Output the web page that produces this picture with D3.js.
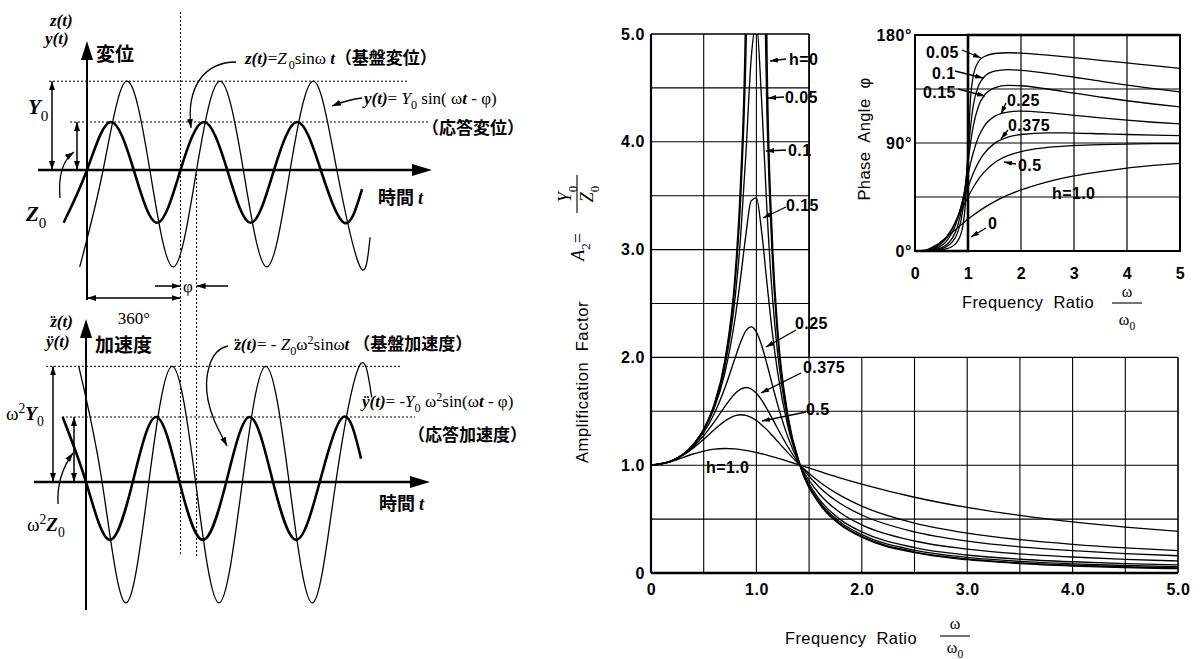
<!DOCTYPE html>
<html><head><meta charset="utf-8">
<script src="https://cdn.jsdelivr.net/npm/d3@7/dist/d3.min.js"></script>
<style>html,body{margin:0;padding:0;background:#fff;} svg{display:block;}</style>
</head><body>
<svg id="chart" width="1202" height="659"></svg>
<script>
// ================= DATA =================
// Amplification factor A2 = Y0/Z0 vs frequency ratio
const ampRatio  = [0,0.2,0.4,0.5,0.6,0.7,0.8,0.85,0.9,0.95,1.0,1.05,1.1,1.15,1.2,1.3,1.414,1.6,1.8,2.0,2.5,3.0,3.5,4.0,4.5,5.0];
const amp_h0    = [1,1.042,1.190,1.333,1.563,1.961,2.778,3.604,5.263,10.26,null,9.756,4.762,3.101,2.273,1.449,1.0,0.641,0.446,0.333,0.190,0.125,0.0889,0.0667,0.0519,0.0417];
const amp_h005  = [1,1.042,1.190,1.332,1.558,1.947,2.720,3.458,4.776,7.380,10.05,6.853,4.244,2.940,2.208,1.436,1.0,0.646,0.452,0.339,0.196,0.130,0.0941,0.0718,0.0570,0.0466];
const amp_h010  = [1,1.042,1.189,1.328,1.547,1.909,2.571,3.117,3.882,4.766,5.099,4.373,3.367,2.590,2.052,1.401,1.0,0.659,0.469,0.356,0.212,0.145,0.108,0.0853,0.0698,0.0589];
const amp_h015  = [1,1.042,1.187,1.322,1.528,1.853,2.377,2.738,3.137,3.452,3.480,3.165,2.692,2.240,1.870,1.354,1.0,0.680,0.493,0.381,0.236,0.167,0.128,0.104,0.0871,0.0750];
const amp_h025  = [1,1.041,1.181,1.304,1.477,1.713,2.001,2.141,2.245,2.283,2.236,2.111,1.939,1.750,1.567,1.258,1.0,0.731,0.557,0.447,0.297,0.222,0.177,0.148,0.127,0.112];
const amp_h0375 = [1,1.041,1.171,1.274,1.402,1.543,1.667,1.706,1.721,1.707,1.667,1.603,1.523,1.434,1.343,1.169,1.0,0.794,0.642,0.538,0.381,0.296,0.243,0.207,0.180,0.160];
const amp_h05   = [1,1.040,1.158,1.240,1.329,1.409,1.460,1.468,1.463,1.444,1.414,1.374,1.328,1.276,1.222,1.114,1.0,0.844,0.717,0.620,0.463,0.370,0.309,0.266,0.233,0.208];
const amp_h10   = [1,1.036,1.104,1.131,1.149,1.155,1.151,1.145,1.138,1.129,1.118,1.106,1.094,1.080,1.066,1.036,1.0,0.942,0.881,0.825,0.703,0.608,0.534,0.474,0.426,0.387];
const ampTickValues = [0,1,2,3,4,5];
const ampTickLabels = ["0","1.0","2.0","3.0","4.0","5.0"];

// Phase angle (deg) vs frequency ratio (inset)
const phaseRatio   = [0,0.2,0.4,0.6,0.7,0.8,0.9,0.95,1.0,1.05,1.1,1.2,1.3,1.5,1.75,2.0,2.5,3.0,3.5,4.0,4.5,5.0];
const phase_h005   = [0,0.05,0.44,1.9,3.8,8.0,20.2,38.8,84.3,128.3,146.1,157.9,161.9,164.6,165.2,164.9,163.2,161.2,158.9,156.7,154.4,152.2];
const phase_h010   = [0,0.1,0.9,3.8,7.4,14.9,33.3,52.1,78.7,104.2,121.3,137.9,144.8,149.8,151.1,150.6,148.0,144.8,141.5,138.3,135.3,132.6];
const phase_h015   = [0,0.14,1.3,5.5,10.5,20.2,39.8,55.2,73.3,90.5,104.2,120.9,129.2,136.0,138.0,137.7,135.0,131.6,128.3,125.2,122.5,120.1];
const phase_h025   = [0,0.24,2.1,8.4,15.2,26.2,42.9,53.0,63.4,73.4,82.1,95.3,103.7,112.2,115.8,116.6,115.3,113.1,110.9,109.0,107.3,105.9];
const phase_h0375  = [0,0.35,3.0,10.9,18.1,28.1,40.3,46.7,53.1,59.2,64.8,74.1,81.0,89.7,94.8,97.1,98.4,98.3,97.7,97.1,96.6,96.1];
const phase_h05    = [0,0.46,3.7,12.2,18.9,27.1,36.1,40.6,45.0,49.2,53.1,59.9,65.5,73.5,79.4,82.9,86.3,87.9,88.7,89.1,89.4,89.5];
const phase_h10    = [0,0.8,4.9,11.7,15.5,19.3,23.0,24.8,26.6,28.3,29.9,33.0,35.9,41.1,46.5,50.9,57.7,62.6,66.2,69.1,71.3,73.1];
const phaseZeroRatio = [0,1,1,5];
const phaseZero      = [0,0,180,180];
const phaseTickXValues = [0,1,2,3,4,5];
const phaseTickXLabels = ["0","1","2","3","4","5"];
const phaseTickYValues = [0,90,180];
const phaseTickYLabels = ["0°","90°","180°"];

// Time histories (key points: phase angle ωt in degrees, amplitude in Z0 units)
const dispT_z = [-90,0,90,180,270,360,450,540,630,720,810,900,990,1059];
const dispV_z = [-1.1,0,1,0,-1.1,0,1,0,-1.1,0,1,0,-1.1,-0.4];
const dispT_y = [-28,62,152,242,332,422,512,602,692,782,872,962,1052,1090];
const dispV_y = [-2.02,0,1.85,0,-2.02,0,1.85,0,-2.02,0,1.85,0,-2.02,-1.4];
const accT_z  = [-90,0,90,180,270,360,450,540,630,720,810,900,990,1059];
const accV_z  = [1,0,-0.89,0,1,0,-0.89,0,1,0,-0.89,0,1,0.36];
const accT_y  = [-28,62,152,242,332,422,512,602,692,782,872,962,1052,1100];
const accV_y  = [1.78,0,-1.86,0,1.78,0,-1.86,0,1.78,0,-1.86,0,1.78,1.3];
const phaseLag = 62;      // φ in degrees
const peakY0 = 1.85, peakW2Y0 = 1.78;

// ================= DRAWING =================
const SERIF = "'Liberation Serif','DejaVu Serif',serif";
const SANS  = "'Liberation Sans',Arial,Helvetica,sans-serif";
const CJK   = "'Noto Sans CJK JP','Noto Sans CJK SC',sans-serif";
const svg = d3.select('#chart');
svg.append('rect').attr('width',1202).attr('height',659).attr('fill','#fff');
const defs = svg.append('defs');
function marker(id,len,wid){
  defs.append('marker').attr('id',id).attr('viewBox',`0 0 ${len} ${wid}`)
    .attr('refX',len).attr('refY',wid/2).attr('markerWidth',len).attr('markerHeight',wid)
    .attr('markerUnits','userSpaceOnUse').attr('orient','auto-start-reverse')
    .append('path').attr('d',`M0,0L${len},${wid/2}L0,${wid}Z`).attr('fill','#000');
}
marker('ah',9,6); marker('ahs',8,5);

function rich(parent,x,y,segs,opts={}){
  const fs = opts.size||17;
  const t = parent.append('text').attr('x',x).attr('y',y)
    .attr('font-family',opts.family||SERIF).attr('font-size',fs).attr('fill','#000');
  if(opts.anchor) t.attr('text-anchor',opts.anchor);
  if(opts.weight) t.attr('font-weight',opts.weight);
  let shift=0;
  segs.forEach(s=>{
    const sp=t.append('tspan').text(s.t);
    const target = s.sub?0.32:(s.sup?-0.38:0);
    const dy=(target-shift)*fs;
    if(dy!==0) sp.attr('dy',dy.toFixed(2));
    shift=target;
    if(s.sub||s.sup) sp.attr('font-size',fs*0.72);
    if(s.i) sp.attr('font-style','italic');
    if(s.b) sp.attr('font-weight','bold');
    if(s.j) sp.attr('font-family',CJK).attr('font-weight',700);
    if(s.dx) sp.attr('dx',s.dx);
  });
  return t;
}
// z with two dots (second derivative)
const ZDD = [{t:'z',i:1,b:1},{t:'¨',b:1,dx:-7},{t:'(t)',i:1,b:1,dx:1.2}];

function line(g,x1,y1,x2,y2,w,dash){
  const l=g.append('line').attr('x1',x1).attr('y1',y1).attr('x2',x2).attr('y2',y2)
    .attr('stroke','#000').attr('stroke-width',w||1);
  if(dash) l.attr('stroke-dasharray',dash);
  return l;
}
function arrowPath(g,d,w,m,both){
  const p=g.append('path').attr('d',d).attr('fill','none').attr('stroke','#000').attr('stroke-width',w||1.2)
    .attr('marker-end',`url(#${m||'ah'})`);
  if(both) p.attr('marker-start',`url(#${m||'ah'})`);
  return p;
}

// ---------- LEFT: displacement / acceleration diagrams ----------
const xTop=d3.scaleLinear().domain([0,360]).range([87,180.5]);
const yTop=d3.scaleLinear().domain([0,1]).range([170,122]);
const xBot=d3.scaleLinear().domain([0,360]).range([86,179.5]);
const yBot=d3.scaleLinear().domain([0,1]).range([482,417]);
const gL=svg.append('g');

line(gL,49,yTop(peakY0),408,yTop(peakY0),1,'2,2');
line(gL,70,yTop(1),428,yTop(1),1,'2,2');
line(gL,xTop(360),12,xTop(360),556,1,'2,2');
line(gL,xTop(360+phaseLag),170,xTop(360+phaseLag),556,1,'2,2');
line(gL,46,yBot(peakW2Y0),401,yBot(peakW2Y0),1,'2,2');
line(gL,62,yBot(1),415,yBot(1),1,'2,2');

line(gL,38,170,414,170,2.6);
gL.append('path').attr('d','M412,164 L432,170 L412,176 Z').attr('fill','#000');
line(gL,87,300,87,56,2);
gL.append('path').attr('d','M81,60 L87,41 L93,60 Z').attr('fill','#000');
line(gL,34,482,412,482,2.6);
gL.append('path').attr('d','M410,476 L430,482 L410,488 Z').attr('fill','#000');
line(gL,86,610,86,334,2);
gL.append('path').attr('d','M80,338 L86,319 L92,338 Z').attr('fill','#000');

const waveTop=d3.line().x(d=>xTop(d[0])).y(d=>yTop(d[1])).curve(d3.curveNatural);
const waveBot=d3.line().x(d=>xBot(d[0])).y(d=>yBot(d[1])).curve(d3.curveNatural);
gL.append('path').attr('d',waveTop(d3.zip(dispT_y,dispV_y))).attr('fill','none').attr('stroke','#000').attr('stroke-width',1.3);
gL.append('path').attr('d',waveTop(d3.zip(dispT_z,dispV_z))).attr('fill','none').attr('stroke','#000').attr('stroke-width',2.6);
gL.append('path').attr('d',waveBot(d3.zip(accT_y,accV_y))).attr('fill','none').attr('stroke','#000').attr('stroke-width',1.3);
gL.append('path').attr('d',waveBot(d3.zip(accT_z,accV_z))).attr('fill','none').attr('stroke','#000').attr('stroke-width',2.6);

arrowPath(gL,`M52,${yTop(peakY0)} L52,170`,1.5,'ah',true);
arrowPath(gL,`M77,${yTop(1)} L77,170`,1.5,'ah',true);
arrowPath(gL,`M53,${yBot(peakW2Y0)} L53,482`,1.5,'ah',true);
arrowPath(gL,`M74,${yBot(1)} L74,482`,1.5,'ah',true);
arrowPath(gL,`M155,286 L${xTop(360)},286`,1.5);
arrowPath(gL,`M228,286 L${xTop(360+phaseLag)},286`,1.5);
arrowPath(gL,`M${xTop(0)},298 L${xTop(360)},298`,1.5,'ah',true);

arrowPath(gL,'M236,62 C205,62 186,86 191,128',1.3);
arrowPath(gL,'M362,98 C352,99 342,102 332,106',1.3);
arrowPath(gL,'M60,198 C58,175 63,160 74,152',1.3);
arrowPath(gL,'M228,346 C208,350 204,380 208,400 C212,420 220,432 227,446',1.3);
arrowPath(gL,'M58,504 C57,485 62,468 73,453',1.3);

rich(gL,50,26,[{t:'z(t)',i:1,b:1}],{size:17});
rich(gL,45,44,[{t:'y(t)',i:1,b:1}],{size:17});
rich(gL,96,61,[{t:'変位',j:1}],{size:19});
rich(gL,28,114,[{t:'Y',i:1,b:1},{t:'0',sub:1}],{size:21});
rich(gL,26,221,[{t:'Z',i:1,b:1},{t:'0',sub:1}],{size:21});
rich(gL,245,64,[{t:'z(t)',i:1,b:1},{t:'='},{t:'Z',i:1},{t:'0',sub:1,dx:2},{t:'sinω '},{t:'t',i:1,b:1},{t:'（基盤変位）',j:1}],{size:17});
rich(gL,364,104,[{t:'y(t)',i:1,b:1},{t:'= '},{t:'Y',i:1},{t:'0',sub:1},{t:' sin( ω'},{t:'t',i:1,b:1},{t:' - φ)'}],{size:17});
rich(gL,422,134,[{t:'（応答変位）',j:1}],{size:17});
rich(gL,378,204,[{t:'時間 ',j:1},{t:'t',i:1,b:1}],{size:18});
rich(gL,188,292,[{t:'φ'}],{size:17,anchor:'middle'});
rich(gL,134,324,[{t:'360°'}],{size:17,anchor:'middle'});

rich(gL,50,327,ZDD,{size:17});
rich(gL,46,347,[{t:'ÿ(t)',i:1,b:1}],{size:17});
rich(gL,95,352,[{t:'加速度',j:1}],{size:19});
rich(gL,234,350,ZDD.concat([{t:'= - '},{t:'Z',i:1},{t:'0',sub:1},{t:'ω'},{t:'2',sup:1},{t:'sinω'},{t:'t',i:1,b:1},{t:'  （基盤加速度）',j:1}]),{size:17});
rich(gL,362,407,[{t:'ÿ(t)',i:1,b:1},{t:'= -'},{t:'Y',i:1},{t:'0',sub:1},{t:' ω'},{t:'2',sup:1},{t:'sin('},{t:'ω'},{t:'t',i:1,b:1},{t:' - φ)'}],{size:17});
rich(gL,408,441,[{t:'（応答加速度）',j:1}],{size:17});
rich(gL,379,510,[{t:'時間 ',j:1},{t:'t',i:1,b:1}],{size:18});
rich(gL,6,420,[{t:'ω'},{t:'2',sup:1},{t:'Y',i:1,b:1},{t:'0',sub:1}],{size:19});
rich(gL,27,531,[{t:'ω'},{t:'2',sup:1},{t:'Z',i:1,b:1},{t:'0',sub:1}],{size:19});

// ---------- RIGHT: amplification factor ----------
const xM=d3.scaleLinear().domain([0,5]).range([651,1178]);
const yM=d3.scaleLinear().domain([0,5]).range([573,34]);
const gM=svg.append('g');
const steps=d3.range(0.5,5,0.5);
steps.forEach(v=>{ line(gM,xM(0),yM(v),xM(v>2?1.5:5),yM(v),1.1); });
steps.forEach(u=>{ line(gM,xM(u),yM(0),xM(u),yM(u>1.5?2:5),1.1); });
gM.append('path').attr('d',`M${xM(1.5)},${yM(5)} L${xM(0)},${yM(5)} M${xM(1.5)},${yM(2)} L${xM(1.5)},${yM(5)} M${xM(5)},${yM(0)} L${xM(5)},${yM(2)}`)
  .attr('fill','none').attr('stroke','#000').attr('stroke-width',1.6);
line(gM,xM(0),yM(0),xM(0),yM(5),2.2);
line(gM,xM(0),yM(0),xM(5),yM(0),2.4);

defs.append('clipPath').attr('id','clipM').append('rect')
  .attr('x',xM(0)).attr('y',yM(5)).attr('width',xM(5)-xM(0)).attr('height',yM(0)-yM(5));
const ampLine=d3.line().defined(d=>d[1]!=null).x(d=>xM(d[0])).y(d=>yM(d[1])).curve(d3.curveMonotoneX);
const ampSeries=[amp_h0,amp_h005,amp_h010,amp_h015,amp_h025,amp_h0375,amp_h05,amp_h10];
const gC=gM.append('g').attr('clip-path','url(#clipM)');
ampSeries.forEach((vals,i)=>{
  gC.append('path').attr('d',ampLine(d3.zip(ampRatio,vals))).attr('fill','none')
    .attr('stroke','#000').attr('stroke-width',i===0?1.7:1.35);
});

const axY=d3.axisLeft(yM).tickValues(ampTickValues).tickFormat((d,i)=>ampTickLabels[i]).tickSize(0).tickPadding(6);
const axX=d3.axisBottom(xM).tickValues(ampTickValues).tickFormat((d,i)=>ampTickLabels[i]).tickSize(0).tickPadding(11);
function styleAxis(g){ g.select('.domain').remove(); g.selectAll('text').attr('font-family',SANS).attr('font-size',16).attr('font-weight','bold').attr('fill','#000').attr('letter-spacing',0.6); }
gM.append('g').attr('transform',`translate(${xM(0)},0)`).call(axY).call(styleAxis);
gM.append('g').attr('transform',`translate(0,${yM(0)})`).call(axX).call(styleAxis);

gM.append('text').attr('transform','translate(588,382) rotate(-90)').attr('text-anchor','middle')
  .attr('font-family',SANS).attr('font-size',16.5).attr('letter-spacing',0.6).attr('xml:space','preserve').text('Amplification  Factor');
const gA=gM.append('g').attr('transform','translate(577,195) rotate(-90)');
rich(gA,-38,7,[{t:'A',i:1},{t:'2',sub:1},{t:'='}],{size:18,anchor:'end'});
rich(gA,1,-6,[{t:'Y',i:1},{t:'0',sub:1}],{size:18,anchor:'middle'});
line(gA,-18,0,20,0,1.1);
rich(gA,1,16,[{t:'Z',i:1},{t:'0',sub:1}],{size:18,anchor:'middle'});

gM.append('text').attr('x',851).attr('y',644).attr('text-anchor','middle')
  .attr('font-family',SANS).attr('font-size',16.5).attr('letter-spacing',0.4).attr('xml:space','preserve').text('Frequency  Ratio');
rich(gM,955,629,[{t:'ω'}],{size:16,anchor:'middle'});
line(gM,940,636,970,636,1.1);
rich(gM,955,653,[{t:'ω'},{t:'0',sub:1}],{size:16,anchor:'middle'});

const mainLabelText=["h=0","0.05","0.1","0.15","0.25","0.375","0.5","h=1.0"];
const mainLabelPos=[[789,65,[786,59,770,61]],[785,103,[784,97,768,98]],[788,156,[786,150,766,151]],[786,211,[786,207,763,218]],
  [795,329,[796,330,766,347]],[803,373,[801,373,761,393]],[806,415,[806,412,762,421]],[706,473,null]];
mainLabelText.forEach((t,i)=>{
  const p=mainLabelPos[i];
  gM.append('text').attr('x',p[0]).attr('y',p[1]).attr('font-family',SANS).attr('font-size',16).attr('font-weight','bold').attr('letter-spacing',0.4).text(t);
  if(p[2]) arrowPath(gM,`M${p[2][0]},${p[2][1]} L${p[2][2]},${p[2][3]}`,1.3,'ahs');
});

// ---------- INSET: phase angle ----------
const xI=d3.scaleLinear().domain([0,5]).range([915,1180]);
const yI=d3.scaleLinear().domain([0,180]).range([251,35]);
const gI=svg.append('g');
gI.append('rect').attr('x',xI(0)).attr('y',yI(180)).attr('width',xI(5)-xI(0)).attr('height',yI(0)-yI(180)).attr('fill','#fff');
[1,2,3,4].forEach(u=>line(gI,xI(u),yI(0),xI(u),yI(180),1.2));
[45,90,135].forEach(v=>line(gI,xI(0),yI(v),xI(5),yI(v),1.2));
gI.append('rect').attr('x',xI(0)).attr('y',yI(180)).attr('width',xI(5)-xI(0)).attr('height',yI(0)-yI(180))
  .attr('fill','none').attr('stroke','#000').attr('stroke-width',2);
defs.append('clipPath').attr('id','clipI').append('rect')
  .attr('x',xI(0)).attr('y',yI(180)).attr('width',xI(5)-xI(0)).attr('height',yI(0)-yI(180));
const phLine=d3.line().x(d=>xI(d[0])).y(d=>yI(d[1])).curve(d3.curveMonotoneX);
const gP=gI.append('g').attr('clip-path','url(#clipI)');
[phase_h005,phase_h010,phase_h015,phase_h025,phase_h0375,phase_h05,phase_h10].forEach(vals=>{
  gP.append('path').attr('d',phLine(d3.zip(phaseRatio,vals))).attr('fill','none').attr('stroke','#000').attr('stroke-width',1.3);
});
gI.append('path').attr('d',d3.line().x(d=>xI(d[0])).y(d=>yI(d[1]))(d3.zip(phaseZeroRatio,phaseZero)))
  .attr('fill','none').attr('stroke','#000').attr('stroke-width',2.6);

const axIX=d3.axisBottom(xI).tickValues(phaseTickXValues).tickFormat((d,i)=>phaseTickXLabels[i]).tickSize(0).tickPadding(17);
const axIY=d3.axisLeft(yI).tickValues(phaseTickYValues).tickFormat((d,i)=>phaseTickYLabels[i]).tickSize(0).tickPadding(3);
gI.append('g').attr('transform',`translate(0,${yI(0)})`).call(axIX).call(styleAxis);
gI.append('g').attr('transform',`translate(${xI(0)},0)`).call(axIY).call(styleAxis);

gI.append('text').attr('transform','translate(870,139) rotate(-90)').attr('text-anchor','middle')
  .attr('font-family',SANS).attr('font-size',16.5).attr('letter-spacing',0.4).attr('xml:space','preserve').text('Phase  Angle  φ');
gI.append('text').attr('x',1028).attr('y',308).attr('text-anchor','middle')
  .attr('font-family',SANS).attr('font-size',16.5).attr('letter-spacing',0.4).attr('xml:space','preserve').text('Frequency  Ratio');
rich(gI,1127,297,[{t:'ω'}],{size:16,anchor:'middle'});
line(gI,1112,303,1142,303,1.1);
rich(gI,1127,325,[{t:'ω'},{t:'0',sub:1}],{size:16,anchor:'middle'});

const insetLabelText=["0.05","0.1","0.15","0.25","0.375","0.5","h=1.0","0"];
const insetLabelPos=[[926,58,[962,50,981,58]],[932,79,[955,71,983,78]],[923,98,[958,89,985,96]],
  [1007,106,[1006,103,1001,114]],[1008,131,[1008,130,1001,139]],[1018,171,[1016,164,1004,162]],[1052,199,null],[988,229,[986,228,971,237]]];
insetLabelText.forEach((t,i)=>{
  const p=insetLabelPos[i];
  gI.append('text').attr('x',p[0]).attr('y',p[1]).attr('font-family',SANS).attr('font-size',16).attr('font-weight','bold').attr('letter-spacing',0.4).text(t);
  if(p[2]) arrowPath(gI,`M${p[2][0]},${p[2][1]} L${p[2][2]},${p[2][3]}`,1.3,'ahs');
});
</script>
</body></html>
